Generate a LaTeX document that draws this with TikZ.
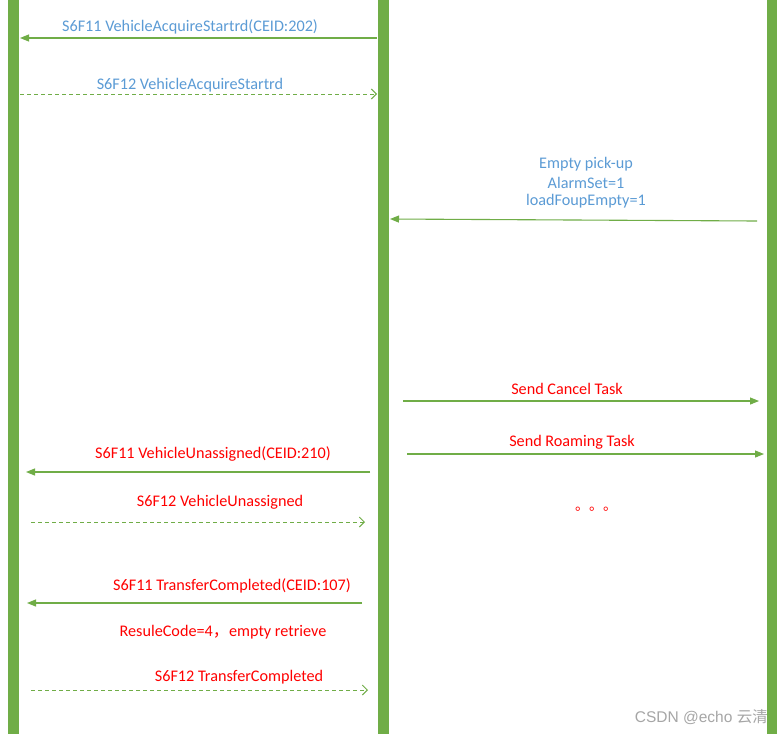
\documentclass[tikz,border=0pt]{standalone}
\usepackage{fontspec}
\setmainfont{Carlito}
\newfontfamily\cjk{Noto Sans CJK SC}
\newfontfamily\lsans{Liberation Sans}
\usetikzlibrary{arrows.meta}
\definecolor{lgreen}{HTML}{70AD47}
\definecolor{lblue}{HTML}{5B9BD5}
\definecolor{lred}{HTML}{FF0000}
\tikzset{
  x=1pt,y=-1pt,
  lifeline/.style={fill=lgreen,draw=none},
  msg/.style={draw=lgreen,line width=1.1pt,-{Triangle[length=9pt,width=7pt]}},
  reply/.style={draw=lgreen,line width=1pt,dash pattern=on 4pt off 3pt,-{Straight Barb[length=5pt,width=10pt,line width=1pt]}},
  bluetxt/.style={text=lblue,font=\fontsize{16.2}{19}\selectfont,inner sep=0pt,align=center},
  redtxt/.style={text=lred,font=\fontsize{16.2}{19}\selectfont,inner sep=0pt,align=center},
}
\begin{document}
\begin{tikzpicture}
\useasboundingbox (0,0) rectangle (783,734);
\fill[white] (0,0) rectangle (783,734);
% lifelines
\fill[lifeline] (8,0) rectangle (19,734);
\fill[lifeline] (378,0) rectangle (389,734);
\fill[lifeline] (767,0) rectangle (777,734);
% coordinates
\coordinate (a1s) at (377,38);  \coordinate (a1e) at (20,38);
\coordinate (a2s) at (20,94);   \coordinate (a2e) at (377,94);
\coordinate (a3s) at (757,221); \coordinate (a3e) at (390,219);
\coordinate (a4s) at (403,401); \coordinate (a4e) at (759,401);
\coordinate (a5s) at (407,454); \coordinate (a5e) at (764,454);
\coordinate (a6s) at (370,472); \coordinate (a6e) at (26,472);
\coordinate (a7s) at (31,522);  \coordinate (a7e) at (365,522);
\coordinate (a8s) at (362,603); \coordinate (a8e) at (27,603);
\coordinate (a9s) at (31,690);  \coordinate (a9e) at (368,690);
% connectors
\draw[msg] (a1s) -- (a1e);
\draw[reply] (a2s) -- (a2e);
\draw[msg] (a3s) -- (a3e);
\draw[msg] (a4s) -- (a4e);
\draw[msg] (a5s) -- (a5e);
\draw[msg] (a6s) -- (a6e);
\draw[reply] (a7s) -- (a7e);
\draw[msg] (a8s) -- (a8e);
\draw[reply] (a9s) -- (a9e);
% labels
\node[bluetxt] (t1) at (190,27) {S6F11 VehicleAcquireStartrd(CEID:202)};
\node[bluetxt] (t2) at (190,85) {S6F12 VehicleAcquireStartrd};
\node[bluetxt] (t3a) at (586,164) {Empty pick-up};
\node[bluetxt] (t3b) at (586,183) {AlarmSet=1};
\node[bluetxt] (t3c) at (586,201) {loadFoupEmpty=1};
\node[redtxt] (t4) at (567,389) {Send Cancel Task};
\node[redtxt] (t5) at (572,442) {Send Roaming Task};
\node[redtxt] (t6) at (213,454) {S6F11 VehicleUnassigned(CEID:210)};
\node[redtxt] (t7) at (220,502) {S6F12 VehicleUnassigned};
\node[redtxt] (t8) at (232,586) {S6F11 TransferCompleted(CEID:107)};
\node[redtxt] (t9) at (223,632) {ResuleCode=4{\cjk ，}empty retrieve};
\node[redtxt] (t10) at (239,677) {S6F12 TransferCompleted};
\node[text=lred,font=\cjk\fontsize{14}{16}\selectfont,inner sep=0pt] (dots) at (596,509) {。。。};
\node[text=gray!70,font=\lsans\fontsize{15.5}{18}\selectfont,inner sep=0pt,anchor=east] (wm) at (768,717) {CSDN @echo {\cjk 云清}};
\end{tikzpicture}
\end{document}
